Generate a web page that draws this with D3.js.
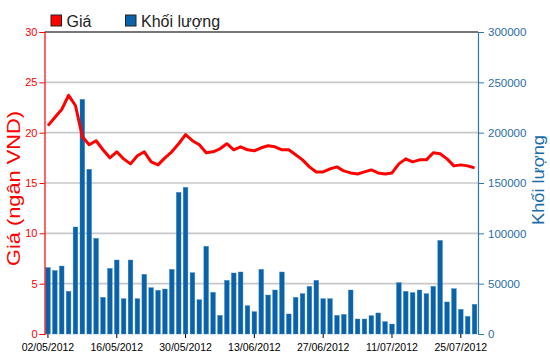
<!DOCTYPE html>
<html><head><meta charset="utf-8">
<script src="https://cdn.jsdelivr.net/npm/d3@7"></script>
<style>body{margin:0;background:#fff}svg{display:block}</style>
</head><body><div id="chart"></div>
<script>
const dates = ["02/05","03/05","04/05","07/05","08/05","09/05","10/05","11/05","14/05","15/05","16/05","17/05","18/05","21/05","22/05","23/05","24/05","25/05","28/05","29/05","30/05","31/05",
"01/06","04/06","05/06","06/06","07/06","08/06","11/06","12/06","13/06","14/06","15/06","18/06","19/06","20/06","21/06","22/06","25/06","26/06","27/06","28/06","29/06",
"02/07","03/07","04/07","05/07","06/07","09/07","10/07","11/07","12/07","13/07","16/07","17/07","18/07","19/07","20/07","23/07","24/07","25/07","26/07","27/07"].map(d => d + "/2012");
const price = [20.7,21.5,22.3,23.7,22.7,19.6,18.8,19.2,18.3,17.5,18.1,17.4,16.9,17.7,18.1,17.1,16.8,17.5,18.1,18.9,19.8,19.2,18.8,18.0,18.1,18.4,18.9,18.3,18.6,18.3,18.2,18.5,18.7,18.6,18.3,18.3,17.8,17.3,16.6,16.1,16.1,16.4,16.6,16.2,16.0,15.9,16.1,16.3,16.0,15.9,16.0,16.9,17.4,17.1,17.3,17.3,18.0,17.9,17.4,16.7,16.8,16.7,16.5];
const volume = [66000,63000,67500,42400,106300,233100,163600,95000,36400,65200,73500,35100,73500,35100,59300,46000,43400,44700,64200,140700,145700,60900,34100,87100,41400,18500,53300,60600,61600,28100,22200,64200,38700,43700,61600,19900,36400,40100,47300,53300,35100,35100,18500,19500,43700,14900,14900,18200,20900,12300,9900,51000,42400,41100,43700,40100,47300,93000,31800,45000,24500,17500,29500];
const priceTicks = [0,5,10,15,20,25,30];
const volTicks = [0,50000,100000,150000,200000,250000,300000];
const xTickLabels = ["02/05/2012","16/05/2012","30/05/2012","13/06/2012","27/06/2012","11/07/2012","25/07/2012"];
const legendItems = [{label:"Giá", color:"#ff0000"},{label:"Khối lượng", color:"#0a62a8"}];

const W = 550, H = 364;
const mL = 44.5, mR = 478, mT = 32, mB = 334;
const FONT = "'Liberation Sans', Arial, sans-serif";
const svg = d3.select("#chart").append("svg").attr("width", W).attr("height", H)
  .style("font-family", FONT);

const x = d3.scaleBand().domain(dates).range([mL, mR]).paddingInner(0.32).paddingOuter(0.16);
const yP = d3.scaleLinear().domain([0,30]).range([mB, mT]);
const yV = d3.scaleLinear().domain([0,300000]).range([mB, mT]);
const cx = d => x(d) + x.bandwidth()/2;

// gridlines
svg.append("g").selectAll("line").data(priceTicks.filter(t => t > 0)).join("line")
  .attr("x1", mL).attr("x2", mR)
  .attr("y1", d => yP(d)).attr("y2", d => yP(d))
  .attr("stroke", d => d === 30 ? "#4a4a4a" : "#c8c8c8")
  .attr("stroke-width", d => d === 30 ? 1.6 : 1.6);

// bars
svg.append("g").selectAll("rect").data(volume).join("rect")
  .attr("x", (d,i) => x(dates[i])).attr("width", x.bandwidth())
  .attr("y", d => yV(d)).attr("height", d => mB - yV(d))
  .attr("fill", "#0a62a8").attr("stroke", "#3a86c4").attr("stroke-width", 0.4);

// price line
const line = d3.line().x((d,i) => cx(dates[i])).y(d => yP(d));
svg.append("path").datum(price).attr("d", line)
  .attr("fill", "none").attr("stroke", "#ff0000").attr("stroke-width", 3).attr("stroke-linejoin", "round");

// left axis
const gL = svg.append("g").attr("transform", `translate(${mL},0)`)
  .call(d3.axisLeft(yP).tickValues(priceTicks).tickSize(5).tickPadding(2));
gL.select(".domain").attr("stroke", "#ff0000").attr("stroke-width", 1.2);
gL.selectAll(".tick line").attr("stroke", "#ff0000");
gL.selectAll("text").attr("fill", "#ff0000").style("font-size", "11px").style("font-family", FONT);

// right axis
const gR = svg.append("g").attr("transform", `translate(${mR},0)`)
  .call(d3.axisRight(yV).tickValues(volTicks).tickFormat(d3.format("d")).tickSize(6).tickPadding(4));
gR.select(".domain").attr("stroke", "#2a7ab8").attr("stroke-width", 1.2);
gR.selectAll(".tick line").attr("stroke", "#2a7ab8");
gR.selectAll("text").attr("fill", "#2a6ea8").style("font-size", "11.5px").style("font-family", FONT);

// bottom axis
const gB = svg.append("g").attr("transform", `translate(0,${mB})`)
  .call(d3.axisBottom(x).tickValues(xTickLabels).tickSize(4).tickPadding(6));
gB.select(".domain").remove();
gB.selectAll(".tick line").attr("stroke", "#000");
gB.selectAll("text").attr("fill", "#000").style("font-size", "10.5px").style("font-family", FONT);

// axis titles
svg.append("text").attr("transform", `translate(19.5,188.5) rotate(-90)`)
  .attr("text-anchor", "middle").attr("fill", "#ff0000").style("font-size", "18px")
  .attr("textLength", 155).attr("lengthAdjust", "spacingAndGlyphs").text("Giá (ngân VND)");
svg.append("text").attr("transform", `translate(544,180) rotate(-90)`)
  .attr("text-anchor", "middle").attr("fill", "#1a6ea8").style("font-size", "17px")
  .attr("textLength", 90).attr("lengthAdjust", "spacingAndGlyphs").text("Khối lượng");

// legend
const lg = svg.append("g");
const lx = [51, 125.5];
legendItems.forEach((it, i) => {
  lg.append("rect").attr("x", lx[i]).attr("y", 15).attr("width", 10.5).attr("height", 11)
    .attr("fill", it.color).attr("stroke", "#222").attr("stroke-width", 1);
  lg.append("text").attr("x", lx[i] + 15.5).attr("y", 26.5).attr("fill", "#222")
    .style("font-size", "16px").text(it.label);
});
</script></body></html>
